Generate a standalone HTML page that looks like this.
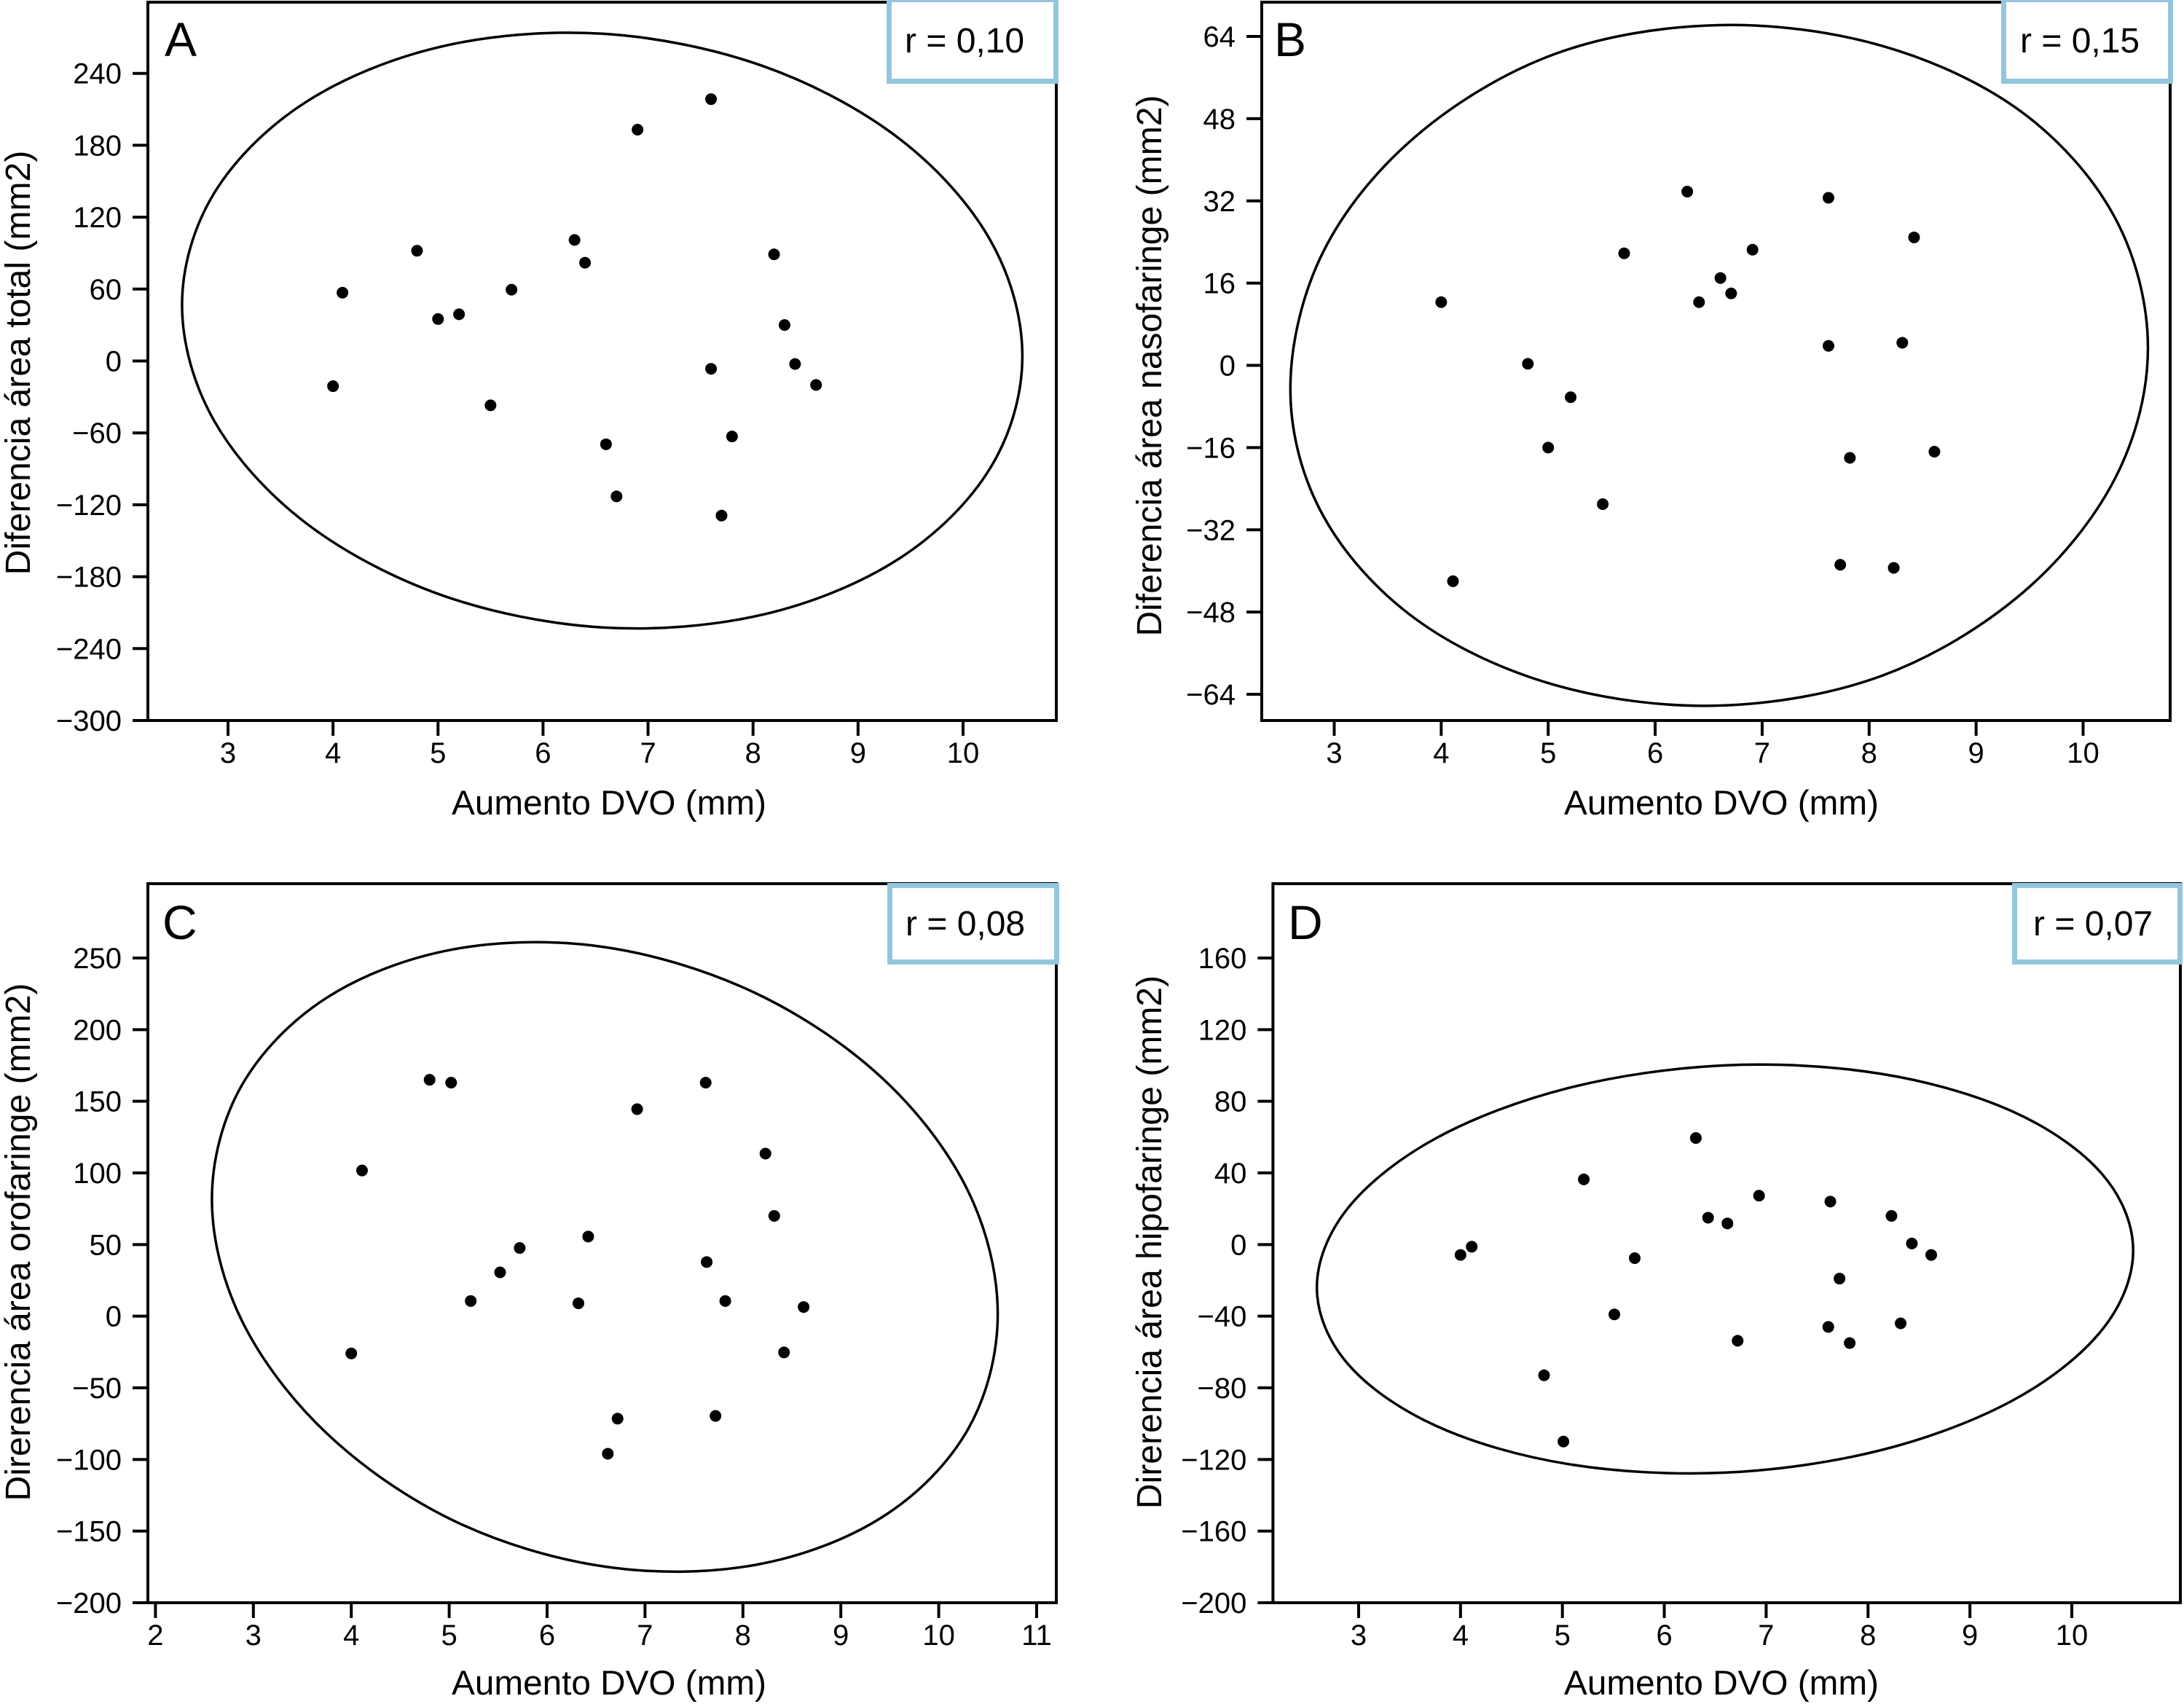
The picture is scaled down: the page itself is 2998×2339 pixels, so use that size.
<!DOCTYPE html>
<html lang="es">
<head>
<meta charset="utf-8">
<title>Aumento DVO vs. diferencia de área</title>
<style>
html,body{margin:0;padding:0;background:#fff;width:2998px;height:2339px;overflow:hidden}
svg{display:block;font-family:"Liberation Sans",Arial,sans-serif;fill:#000}
</style>
</head>
<body>
<svg id="figure" xmlns="http://www.w3.org/2000/svg" width="2998" height="2339" viewBox="0 0 2998 2339"></svg>
<script>
var valuesAX = [4.0,4.09,4.8,5.0,5.2,5.5,5.7,6.3,6.4,6.6,6.7,6.9,7.6,7.6,7.7,7.8,8.2,8.3,8.4,8.6];
var valuesAY = [-21,57,92,35,39,-37,59.5,101,82,-69.5,-113,193,218.5,-6.5,-129,-63,89,30,-2.5,-20];
var contourAX = [10.565,10.261,9.393,8.095,6.564,5.032,3.734,2.867,2.562,2.867,3.734,5.032,6.564,8.095,9.393,10.261];
var contourAY = [4.1,100.52,185.49,246.1,273.1,262.4,215.61,139.88,46.7,-49.72,-134.69,-195.3,-222.3,-211.6,-164.81,-89.08];
var xTicksA = [3,4,5,6,7,8,9,10];
var yTicksA = [240,180,120,60,0,-60,-120,-180,-240,-300];

var valuesBX = [4.0,4.11,4.81,5.0,5.21,5.51,5.71,6.3,6.41,6.61,6.71,6.91,7.62,7.62,7.73,7.82,8.23,8.31,8.42,8.61];
var valuesBY = [12.3,-42,0.3,-16,-6.2,-27,21.8,33.8,12.3,17,14,22.5,32.6,3.8,-38.8,-18,-39.4,4.4,24.9,-16.8];
var contourBX = [10.606,10.301,9.432,8.132,6.598,5.064,3.764,2.895,2.59,2.895,3.764,5.064,6.598,8.132,9.432,10.301];
var contourBY = [3.4,28.6,49.2,62.1,66.2,60.6,44.6,22,-4.6,-29.2,-49.4,-62.2,-66.2,-60.3,-44.3,-21.9];
var xTicksB = [3,4,5,6,7,8,9,10];
var yTicksB = [64,48,32,16,0,-16,-32,-48,-64];

var valuesCX = [4.0,4.11,4.8,5.02,5.22,5.52,5.72,6.32,6.42,6.62,6.72,6.92,7.62,7.63,7.72,7.82,8.23,8.32,8.42,8.62];
var valuesCY = [-26,101.7,165,163,10.6,30.6,47.6,9,55.6,-96,-71.5,144.5,163,37.8,-69.6,10.6,113.5,70,-25.3,6.4];
var contourCX = [10.603,10.298,9.428,8.126,6.59,5.054,3.752,2.882,2.577,2.882,3.752,5.054,6.59,8.126,9.428,10.298];
var contourCY = [1.6,87.5,165.84,225.57,257.6,256.19,222.4,161.11,81.6,-3,-82,-143,-174.8,-173.6,-140,-79];
var xTicksC = [2,3,4,5,6,7,8,9,10,11];
var yTicksC = [250,200,150,100,50,0,-50,-100,-150,-200];

var valuesDX = [4.0,4.11,4.82,5.01,5.21,5.51,5.71,6.31,6.43,6.62,6.72,6.93,7.63,7.61,7.72,7.82,8.23,8.32,8.43,8.62];
var valuesDY = [-5.8,-1.2,-73,-110,36.4,-39,-7.6,59.5,15,11.8,-53.7,27.3,24,-46,-19,-55,16,-44,0.6,-5.8];
var contourDX = [10.602,10.297,9.429,8.129,6.596,5.063,3.763,2.895,2.59,2.895,3.763,5.063,6.596,8.129,9.429,10.297];
var contourDY = [-3.35,39.38,74.03,95.34,100.05,87.46,59.47,20.34,-23.95,-66.68,-101.33,-122.64,-127.35,-114.76,-86.77,-47.64];
var xTicksD = [3,4,5,6,7,8,9,10];
var yTicksD = [160,120,80,40,0,-40,-80,-120,-160,-200];

// Layout (pixels) kept apart from the data above
var panels = [
  {id:'a',letter:'A',xs:valuesAX,ys:valuesAY,cx:contourAX,cy:contourAY,xt:xTicksA,yt:yTicksA,
   left:203,right:1450,top:3,bottom:989,x0:313,x1:1322,yTopPx:100.7,
   letterX:226,letterY:77,tickY:1047,titleX:836,titleY:1118,yTitle:'Diferencia área total (mm2)',yTitleX:41,yTitleY:498,
   r:'r = 0,10',boxL:1217,boxR:1453,boxT:-4,boxB:115,rX:1242,rY:72},
  {id:'b',letter:'B',xs:valuesBX,ys:valuesBY,cx:contourBX,cy:contourBY,xt:xTicksB,yt:yTicksB,
   left:1732,right:2979,top:3,bottom:989,x0:1831.5,x1:2859.5,yTopPx:50,yBottomPx:953,
   letterX:1749,letterY:77,tickY:1047,titleX:2363,titleY:1118,yTitle:'Diferencia área nasofaringe (mm2)',yTitleX:1594,yTitleY:502,
   r:'r = 0,15',boxL:2747,boxR:2983,boxT:-4,boxB:115,rX:2773,rY:72},
  {id:'c',letter:'C',xs:valuesCX,ys:valuesCY,cx:contourCX,cy:contourCY,xt:xTicksC,yt:yTicksC,
   left:203,right:1450,top:1213,bottom:2200,x0:213.4,x1:1423,yTopPx:1315,
   letterX:223,letterY:1289,tickY:2258,titleX:836,titleY:2326,yTitle:'Direrencia área orofaringe (mm2)',yTitleX:41,yTitleY:1705,
   r:'r = 0,08',boxL:1218,boxR:1454,boxT:1212,boxB:1324,rX:1243,rY:1284},
  {id:'d',letter:'D',xs:valuesDX,ys:valuesDY,cx:contourDX,cy:contourDY,xt:xTicksD,yt:yTicksD,
   left:1747.4,right:2993,top:1213,bottom:2200,x0:1865,x1:2844,yTopPx:1315,
   letterX:1768,letterY:1289,tickY:2258,titleX:2363,titleY:2326,yTitle:'Direrencia área hipofaringe (mm2)',yTitleX:1594,yTitleY:1705,
   r:'r = 0,07',boxL:2762,boxR:2996,boxT:1212,boxB:1324,rX:2791,rY:1284}
];

var NS = 'http://www.w3.org/2000/svg';
var root = document.getElementById('figure');

function make(tag, parent, attrs, text) {
  var n = document.createElementNS(NS, tag);
  for (var k in attrs) { n.setAttribute(k, attrs[k]); }
  if (text !== undefined) { n.textContent = text; }
  parent.appendChild(n);
  return n;
}

function fmt(v) {
  return v < 0 ? '\u2212' + Math.abs(v) : String(v);
}

function closedSmoothPath(pts) {
  var n = pts.length, d = 'M' + pts[0][0].toFixed(1) + ' ' + pts[0][1].toFixed(1);
  for (var i = 0; i < n; i++) {
    var p0 = pts[(i - 1 + n) % n], p1 = pts[i], p2 = pts[(i + 1) % n], p3 = pts[(i + 2) % n];
    d += 'C' + (p1[0] + (p2[0] - p0[0]) / 6).toFixed(1) + ' ' + (p1[1] + (p2[1] - p0[1]) / 6).toFixed(1) +
         ' ' + (p2[0] - (p3[0] - p1[0]) / 6).toFixed(1) + ' ' + (p2[1] - (p3[1] - p1[1]) / 6).toFixed(1) +
         ' ' + p2[0].toFixed(1) + ' ' + p2[1].toFixed(1);
  }
  return d + 'Z';
}

panels.forEach(function (p) {
  var xMin = p.xt[0], xMax = p.xt[p.xt.length - 1];
  var yMax = p.yt[0], yMin = p.yt[p.yt.length - 1];
  var yBottomPx = p.yBottomPx !== undefined ? p.yBottomPx : p.bottom;
  function sx(v) { return p.x0 + (v - xMin) * (p.x1 - p.x0) / (xMax - xMin); }
  function sy(v) { return yBottomPx + (v - yMin) * (p.yTopPx - yBottomPx) / (yMax - yMin); }

  var g = make('g', root, {});
  
  

  var frame = make('rect', g, {x: p.left, y: p.top, width: p.right - p.left, height: p.bottom - p.top, fill: 'none', stroke: '#000', 'stroke-width': 4});
  
  

  p.xt.forEach(function (t) {
    var tick = make('line', g, {x1: sx(t), x2: sx(t), y1: p.bottom, y2: p.bottom + 21, stroke: '#000', 'stroke-width': 4});
    
    
    var label = make('text', g, {x: sx(t), y: p.tickY, 'text-anchor': 'middle', 'font-size': 40}, fmt(t));
    
    
  });

  p.yt.forEach(function (t) {
    var tick = make('line', g, {x1: p.left - 21, x2: p.left, y1: sy(t), y2: sy(t), stroke: '#000', 'stroke-width': 4});
    
    
    var label = make('text', g, {x: p.left - 36, y: sy(t) + 14, 'text-anchor': 'end', 'font-size': 40}, fmt(t));
    
    
  });

  var pts = p.cx.map(function (v, i) { return [sx(v), sy(p.cy[i])]; });
  var contour = make('path', g, {d: closedSmoothPath(pts), fill: 'none', stroke: '#000', 'stroke-width': 3.5});
  
  

  p.xs.forEach(function (v, i) {
    var dot = make('circle', g, {cx: sx(v), cy: sy(p.ys[i]), r: 8, fill: '#000'});
    
    
  });

  var letter = make('text', g, {x: p.letterX, y: p.letterY, 'font-size': 66}, p.letter);
  
  

  var xTitle = make('text', g, {x: p.titleX, y: p.titleY, 'text-anchor': 'middle', 'font-size': 47.7}, 'Aumento DVO (mm)');
  
  

  var yTitle = make('text', g, {x: 0, y: 0, 'text-anchor': 'middle', 'font-size': 48.1,
    transform: 'translate(' + p.yTitleX + ' ' + p.yTitleY + ') rotate(-90)'}, p.yTitle);
  
  

  var box = make('rect', g, {x: p.boxL + 3.5, y: p.boxT + 3.5, width: p.boxR - p.boxL - 7, height: p.boxB - p.boxT - 7, fill: '#fff', stroke: '#93c6de', 'stroke-width': 7});
  
  

  var rText = make('text', g, {x: p.rX, y: p.rY, 'font-size': 48}, p.r);
  
  
});
</script>
</body>
</html>
